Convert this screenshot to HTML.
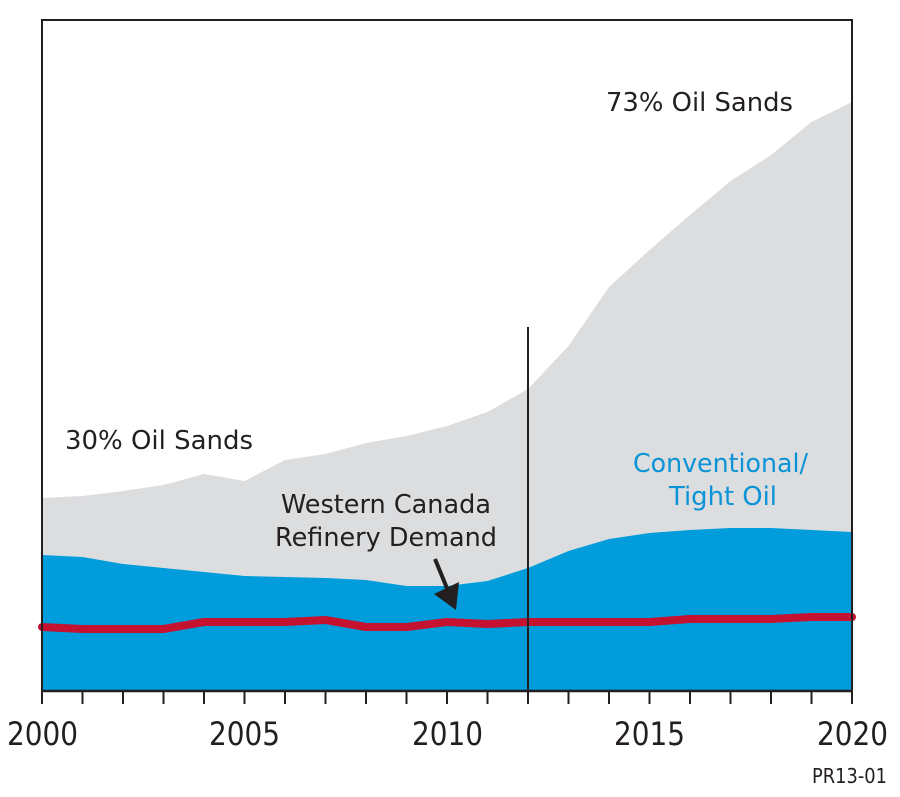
<!DOCTYPE html>
<html><head><meta charset="utf-8"><style>
html,body{margin:0;padding:0;background:#fff;}
svg{display:block;}
text{font-family:"DejaVu Sans","Liberation Sans",sans-serif;}
</style></head><body>
<svg width="900" height="797" viewBox="0 0 900 797" xmlns="http://www.w3.org/2000/svg">
<rect width="900" height="797" fill="#fff"/>
<polygon fill="#dcdddf" points="42,498 82.5,496 123,491 163.5,485 204,474 244.5,481 285,460 325.5,454 366,443 406.5,436 447,426 487.5,412 528,389 568.5,346 609,287 649.5,250 690,215 730.5,181 771,155 811.5,122 852,102 852,691 42,691"/>
<polygon fill="#009cdb" points="42,555 82.5,557 123,564 163.5,568 204,572 244.5,576 285,577 325.5,578 366,580 406.5,586 447,586 487.5,581 528,568 568.5,551 609,539 649.5,533 690,530 730.5,528 771,528 811.5,530 852,532 852,691 42,691"/>
<polyline fill="none" stroke="#c41230" stroke-width="8" stroke-linecap="round" stroke-linejoin="round" points="42,627 82.5,629 123,629 163.5,629 204,622 244.5,622 285,622 325.5,620 366,627 406.5,627 447,622 487.5,624 528,622 568.5,622 609,622 649.5,622 690,619 730.5,619 771,619 811.5,617 852,617"/>
<line x1="528" y1="327" x2="528" y2="691" stroke="#231f20" stroke-width="2"/>
<!-- frame -->
<path d="M42,691 L42,20 L852,20 L852,691" fill="none" stroke="#231f20" stroke-width="2"/>
<line x1="41" y1="691" x2="853" y2="691" stroke="#231f20" stroke-width="2.5"/>
<g stroke="#231f20" stroke-width="2">
<line x1="42" y1="691" x2="42" y2="704"/><line x1="82.5" y1="691" x2="82.5" y2="704"/><line x1="123" y1="691" x2="123" y2="704"/><line x1="163.5" y1="691" x2="163.5" y2="704"/><line x1="204" y1="691" x2="204" y2="704"/><line x1="244.5" y1="691" x2="244.5" y2="704"/><line x1="285" y1="691" x2="285" y2="704"/><line x1="325.5" y1="691" x2="325.5" y2="704"/><line x1="366" y1="691" x2="366" y2="704"/><line x1="406.5" y1="691" x2="406.5" y2="704"/><line x1="447" y1="691" x2="447" y2="704"/><line x1="487.5" y1="691" x2="487.5" y2="704"/><line x1="528" y1="691" x2="528" y2="704"/><line x1="568.5" y1="691" x2="568.5" y2="704"/><line x1="609" y1="691" x2="609" y2="704"/><line x1="649.5" y1="691" x2="649.5" y2="704"/><line x1="690" y1="691" x2="690" y2="704"/><line x1="730.5" y1="691" x2="730.5" y2="704"/><line x1="771" y1="691" x2="771" y2="704"/><line x1="811.5" y1="691" x2="811.5" y2="704"/><line x1="852" y1="691" x2="852" y2="704"/>
</g>
<!-- arrow -->
<line x1="435" y1="559" x2="451" y2="598" stroke="#231f20" stroke-width="4"/>
<polygon fill="#231f20" points="434,594 459,582 456,610"/>
<!-- year labels -->
<g fill="#231f20" font-size="32">
<text x="7" y="745" textLength="71" lengthAdjust="spacingAndGlyphs">2000</text>
<text x="209" y="745" textLength="71" lengthAdjust="spacingAndGlyphs">2005</text>
<text x="412" y="745" textLength="71" lengthAdjust="spacingAndGlyphs">2010</text>
<text x="614" y="745" textLength="71" lengthAdjust="spacingAndGlyphs">2015</text>
<text x="817" y="745" textLength="71" lengthAdjust="spacingAndGlyphs">2020</text>
</g>
<text x="812" y="783" font-size="20" fill="#231f20" textLength="75" lengthAdjust="spacingAndGlyphs">PR13-01</text>
<g fill="#231f20" font-size="26">
<text x="606" y="111" textLength="187" lengthAdjust="spacingAndGlyphs">73% Oil Sands</text>
<text x="65" y="449" textLength="188" lengthAdjust="spacingAndGlyphs">30% Oil Sands</text>
<text x="281" y="513" textLength="210" lengthAdjust="spacingAndGlyphs">Western Canada</text>
<text x="275" y="546" textLength="222" lengthAdjust="spacingAndGlyphs">Refinery Demand</text>
</g>
<g fill="#0a93d6" font-size="26">
<text x="633" y="472" textLength="175" lengthAdjust="spacingAndGlyphs">Conventional/</text>
<text x="669" y="505" textLength="108" lengthAdjust="spacingAndGlyphs">Tight Oil</text>
</g>
</svg>
</body></html>
